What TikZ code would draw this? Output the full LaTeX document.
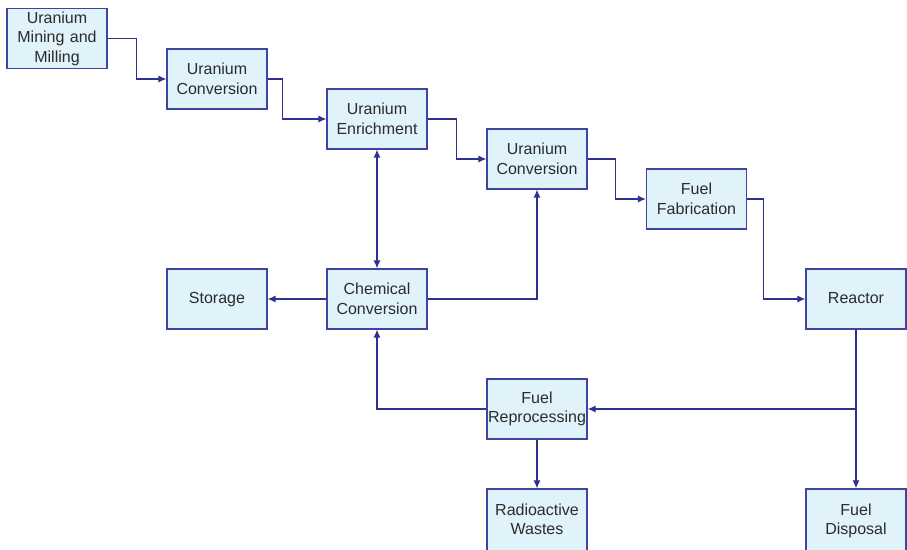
\documentclass[tikz,border=0pt]{standalone}
\usepackage{fontspec}
\setmainfont{Liberation Sans}
\usetikzlibrary{arrows.meta}
\definecolor{boxfill}{HTML}{E0F2FA}
\definecolor{boxline}{HTML}{3F44A0}
\definecolor{linecol}{HTML}{2E3192}
\definecolor{txt}{HTML}{2B2B2B}
\tikzset{
  procbox/.style={draw=boxline, fill=boxfill, line width=1.3pt, minimum width=100pt, minimum height=60pt, inner xsep=0pt, inner ysep=1pt, text width=100pt, align=center, text=txt, font=\fontsize{16}{19.5}\selectfont},
  cutbox/.style={procbox, text width={}, minimum height=80pt, text depth=20pt},
  arr/.style={draw=linecol, line width=1.1pt, -{Latex[length=8pt,width=7pt]}},
  dblarr/.style={draw=linecol, line width=1.1pt, {Latex[length=8pt,width=7pt]}-{Latex[length=8pt,width=7pt]}},
  plain/.style={draw=linecol, line width=1.1pt}
}
\begin{document}
\begin{tikzpicture}[x=1pt,y=-1pt]
\clip (0,0) rectangle (907,549);
\fill[white] (0,0) rectangle (907,549);
\node[procbox] (mine) at (57,38.5) {Uranium\\Mining and\\Milling};
\node[procbox] (conv1) at (217,79) {Uranium\\Conversion};
\node[procbox] (enr) at (377,119) {Uranium\\Enrichment};
\node[procbox] (conv2) at (537,159) {Uranium\\Conversion};
\node[procbox] (fab) at (696.5,199) {Fuel\\Fabrication};
\node[procbox, text depth=2pt] (reac) at (856,299) {Reactor};
\node[procbox, text depth=2pt] (stor) at (217,299) {Storage};
\node[procbox] (chem) at (377,299) {Chemical\\Conversion};
\node[procbox] (rep) at (537,409) {Fuel\\Reprocessing};
\node[cutbox] (waste) at (537,529) {Radioactive\\Wastes};
\node[cutbox] (disp) at (856,529) {Fuel\\Disposal};
\coordinate (j) at (856,409);
\draw[arr] (mine.east) -- ++(29,0) |- (conv1.west);
\draw[arr] (conv1.east) -- ++(15,0) |- (enr.west);
\draw[arr] (enr.east) -- ++(29,0) |- (conv2.west);
\draw[arr] (conv2.east) -- ++(28,0) |- (fab.west);
\draw[arr] (fab.east) -- ++(16,0) |- (reac.west);
\draw[dblarr] (enr.south) -- (chem.north);
\draw[arr] (chem.west) -- (stor.east);
\draw[arr] (chem.east) -| (conv2.south);
\draw[plain] (reac.south) -- (j);
\draw[arr] (j) -- (rep.east);
\draw[arr] (j) -- (disp.north);
\draw[arr] (rep.west) -| (chem.south);
\draw[arr] (rep.south) -- (waste.north);
\end{tikzpicture}
\end{document}
